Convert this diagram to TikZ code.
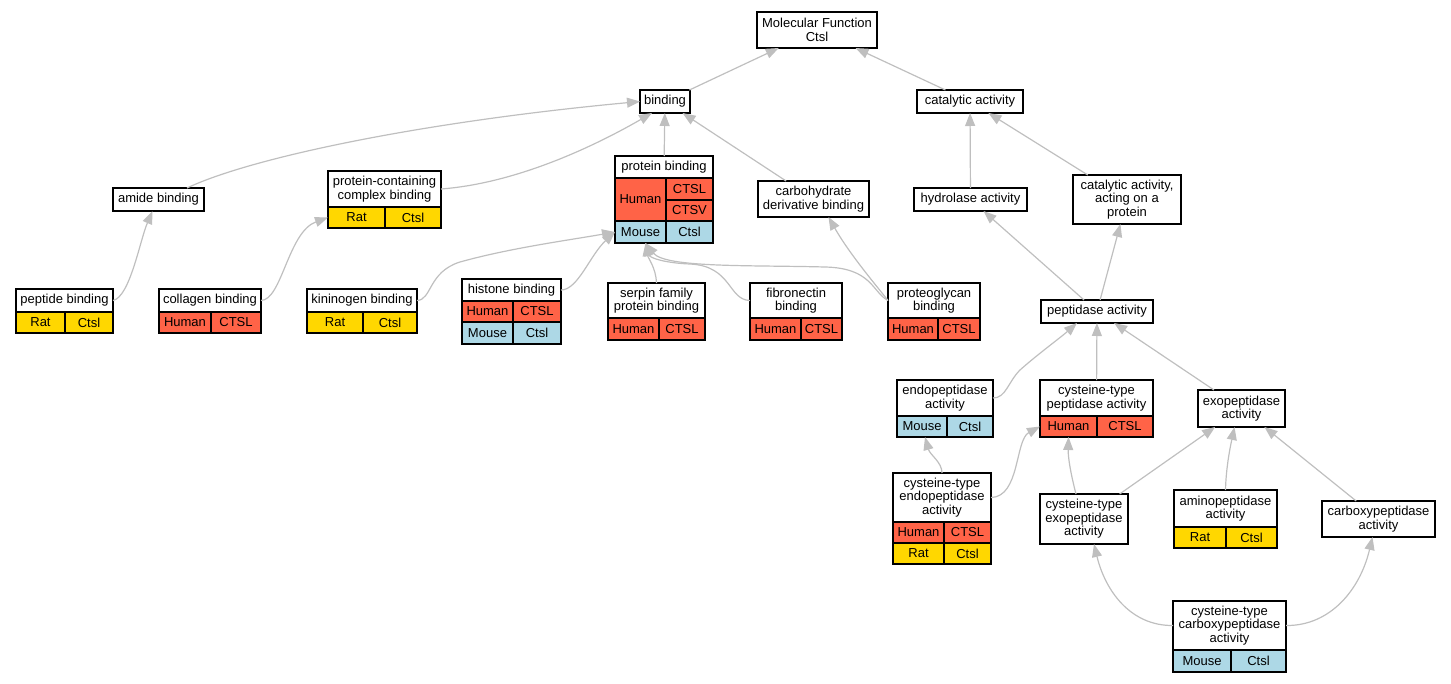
\documentclass[tikz,border=0pt]{standalone}
\usepackage{fontspec}
\setmainfont{Liberation Sans}
\usepackage{tikz}
\usetikzlibrary{arrows.meta}
\definecolor{human red}{rgb}{1, 0.388, 0.278}
\definecolor{rat gold}{rgb}{1, 0.843, 0}
\definecolor{mouse blue}{rgb}{0.678, 0.847, 0.902}
\definecolor{edge gray}{rgb}{0.75, 0.75, 0.75}

\begin{document}
\begin{tikzpicture}[x = 1pt, y = -1pt,
		term/.style = {draw = black, line width = 1.1pt, fill = white, text = black,
			align = center, inner sep = 0pt, outer sep = 0pt, anchor = north west,
			font = {\fontsize{13}{13.5}\selectfont}},
		human/.style = {term, fill = human red},
		rat/.style = {term, fill = rat gold},
		mouse/.style = {term, fill = mouse blue},
		isa/.style = {draw = edge gray, line width = 1.2pt,
			-{Triangle[length = 13pt, width = 10pt]}}]
		\useasboundingbox (0, 0) rectangle (1451, 683);
		% top
		\node[term, minimum width = 120, minimum height = 36] (mf) at (757, 12) {Molecular Function\\Ctsl};
		\node[term, minimum width = 50, minimum height = 23] (bind) at (640, 90) {binding};
		\node[term, minimum width = 106, minimum height = 23] (cat) at (917, 90) {catalytic activity};
		% binding side
		\node[term, minimum width = 91, minimum height = 23] (amide) at (113, 188) {amide binding};
		\node[term, minimum width = 113, minimum height = 36] (pccb) at (328, 171) {protein-containing\\complex binding};
		\node[rat, minimum width = 57, minimum height = 21] (pccb-sp) at (pccb.south west) {Rat};
		\node[rat, minimum width = 56, minimum height = 21] (pccb-gn) at (pccb-sp.north east) {Ctsl};
		\node[term, minimum width = 98, minimum height = 22] (pb) at (615, 156) {protein binding};
		\node[human, minimum width = 51, minimum height = 43] (pb-sp1) at (pb.south west) {Human};
		\node[human, minimum width = 47, minimum height = 22] (pb-gn1) at (pb-sp1.north east) {CTSL};
		\node[human, minimum width = 47, minimum height = 21] (pb-gn2) at (pb-gn1.south west) {CTSV};
		\node[mouse, minimum width = 51, minimum height = 22] (pb-sp2) at (pb-sp1.south west) {Mouse};
		\node[mouse, minimum width = 47, minimum height = 22] (pb-gn3) at (pb-sp2.north east) {Ctsl};
		\node[term, minimum width = 111, minimum height = 36] (carb) at (758, 181) {carbohydrate\\derivative binding};
		% binding leaves
		\node[term, minimum width = 97, minimum height = 23] (pepb) at (16, 289) {peptide binding};
		\node[rat, minimum width = 49, minimum height = 21] (pepb-sp) at (pepb.south west) {Rat};
		\node[rat, minimum width = 48, minimum height = 21] (pepb-gn) at (pepb-sp.north east) {Ctsl};
		\node[term, minimum width = 102, minimum height = 23] (coll) at (159, 289) {collagen binding};
		\node[human, minimum width = 52, minimum height = 21] (coll-sp) at (coll.south west) {Human};
		\node[human, minimum width = 50, minimum height = 21] (coll-gn) at (coll-sp.north east) {CTSL};
		\node[term, minimum width = 110, minimum height = 23] (kin) at (307, 289) {kininogen binding};
		\node[rat, minimum width = 56, minimum height = 21] (kin-sp) at (kin.south west) {Rat};
		\node[rat, minimum width = 54, minimum height = 21] (kin-gn) at (kin-sp.north east) {Ctsl};
		\node[term, minimum width = 99, minimum height = 22] (hist) at (462, 279) {histone binding};
		\node[human, minimum width = 51, minimum height = 21] (hist-sp1) at (hist.south west) {Human};
		\node[human, minimum width = 48, minimum height = 21] (hist-gn1) at (hist-sp1.north east) {CTSL};
		\node[mouse, minimum width = 51, minimum height = 22] (hist-sp2) at (hist-sp1.south west) {Mouse};
		\node[mouse, minimum width = 48, minimum height = 22] (hist-gn2) at (hist-sp2.north east) {Ctsl};
		\node[term, minimum width = 97, minimum height = 35] (serp) at (608, 283) {serpin family\\protein binding};
		\node[human, minimum width = 51, minimum height = 22] (serp-sp) at (serp.south west) {Human};
		\node[human, minimum width = 46, minimum height = 22] (serp-gn) at (serp-sp.north east) {CTSL};
		\node[term, minimum width = 92, minimum height = 35] (fib) at (750, 283) {fibronectin\\binding};
		\node[human, minimum width = 51, minimum height = 22] (fib-sp) at (fib.south west) {Human};
		\node[human, minimum width = 41, minimum height = 22] (fib-gn) at (fib-sp.north east) {CTSL};
		\node[term, minimum width = 92, minimum height = 35] (prot) at (888, 283) {proteoglycan\\binding};
		\node[human, minimum width = 50, minimum height = 22] (prot-sp) at (prot.south west) {Human};
		\node[human, minimum width = 42, minimum height = 22] (prot-gn) at (prot-sp.north east) {CTSL};
		% catalytic side
		\node[term, minimum width = 113, minimum height = 23] (hyd) at (914, 188) {hydrolase activity};
		\node[term, minimum width = 108, minimum height = 49] (catp) at (1073, 175) {catalytic activity,\\acting on a\\protein};
		\node[term, minimum width = 112, minimum height = 23] (pep) at (1041, 300) {peptidase activity};
		\node[term, minimum width = 96, minimum height = 36] (endo) at (897, 380) {endopeptidase\\activity};
		\node[mouse, minimum width = 50, minimum height = 21] (endo-sp) at (endo.south west) {Mouse};
		\node[mouse, minimum width = 46, minimum height = 21] (endo-gn) at (endo-sp.north east) {Ctsl};
		\node[term, minimum width = 113, minimum height = 36] (cpep) at (1040, 380) {cysteine-type\\peptidase activity};
		\node[human, minimum width = 57, minimum height = 21] (cpep-sp) at (cpep.south west) {Human};
		\node[human, minimum width = 56, minimum height = 21] (cpep-gn) at (cpep-sp.north east) {CTSL};
		\node[term, minimum width = 87, minimum height = 37] (exo) at (1198, 390) {exopeptidase\\activity};
		\node[term, minimum width = 98, minimum height = 49] (cendo) at (893, 473) {cysteine-type\\endopeptidase\\activity};
		\node[human, minimum width = 51, minimum height = 21] (cendo-sp1) at (cendo.south west) {Human};
		\node[human, minimum width = 47, minimum height = 21] (cendo-gn1) at (cendo-sp1.north east) {CTSL};
		\node[rat, minimum width = 51, minimum height = 21] (cendo-sp2) at (cendo-sp1.south west) {Rat};
		\node[rat, minimum width = 47, minimum height = 21] (cendo-gn2) at (cendo-sp2.north east) {Ctsl};
		\node[term, minimum width = 88, minimum height = 50] (cexo) at (1040, 494) {cysteine-type\\exopeptidase\\activity};
		\node[term, minimum width = 103, minimum height = 37] (amino) at (1174, 490) {aminopeptidase\\activity};
		\node[rat, minimum width = 52, minimum height = 21] (amino-sp) at (amino.south west) {Rat};
		\node[rat, minimum width = 51, minimum height = 21] (amino-gn) at (amino-sp.north east) {Ctsl};
		\node[term, minimum width = 113, minimum height = 36] (carbx) at (1322, 501) {carboxypeptidase\\activity};
		\node[term, minimum width = 113, minimum height = 49] (ccarb) at (1173, 601) {cysteine-type\\carboxypeptidase\\activity};
		\node[mouse, minimum width = 58, minimum height = 22] (ccarb-sp) at (ccarb.south west) {Mouse};
		\node[mouse, minimum width = 55, minimum height = 22] (ccarb-gn) at (ccarb-sp.north east) {Ctsl};
		% edges, binding side
		\draw[isa] (bind) -- (mf);
		\draw[isa] (cat) -- (mf);
		\draw[isa] ([xshift = -17]amide.north east) .. controls (250, 158) and (420, 122) .. (bind.west);
		\draw[isa] (pccb.east) .. controls (520, 183) and (600, 143) .. ([xshift = 12]bind.south west);
		\draw[isa] (pb) -- (bind);
		\draw[isa] (carb) -- (bind);
		\draw[isa] (pepb.east) .. controls (130, 297) and (140, 240) .. ([xshift = -6]amide.south);
		\draw[isa] (coll.east) .. controls (282, 300) and (288, 232) .. (pccb-sp.west);
		\draw[isa] (kin.east) .. controls (432, 300) and (428, 272) .. (460, 262)
			.. controls (510, 248) and (570, 240) .. (pb-sp2.west);
		\draw[isa] (hist.east) .. controls (578, 290) and (590, 255) .. (pb-sp2.west);
		\draw[isa] (serp.north) .. controls (656, 268) and (648, 258) .. ([xshift = 5]pb-sp2.south);
		\draw[isa] (fib.west) .. controls (728, 300) and (732, 266) .. (690, 264)
			.. controls (665, 263) and (650, 258) .. ([xshift = 5]pb-sp2.south);
		\draw[isa] (prot.west) .. controls (872, 292) and (872, 268) .. (825, 267)
			.. controls (750, 265) and (665, 268) .. ([xshift = 5]pb-sp2.south);
		\draw[isa] (prot.west) .. controls (880, 290) and (850, 255) .. ([xshift = 15]carb.south);
		% edges, catalytic side
		\draw[isa] (hyd) -- (cat);
		\draw[isa] (catp) -- (cat);
		\draw[isa] (pep) -- (hyd);
		\draw[isa] (pep) -- (catp);
		\draw[isa] (endo.east) .. controls (1006, 398) and (1008, 382) .. (1020, 370)
			.. controls (1038, 354) and (1060, 338) .. ([xshift = -20]pep.south);
		\draw[isa] (cpep) -- (pep);
		\draw[isa] (exo) -- (pep);
		\draw[isa] (cendo.north) .. controls (942, 462) and (930, 455) .. ([xshift = 3]endo-sp.south);
		\draw[isa] (cendo.east) .. controls (1020, 497) and (1015, 440) .. (cpep-sp.west);
		\draw[isa] ([xshift = -8]cexo.north) .. controls (1071, 475) and (1068, 458) .. (cpep-sp.south);
		\draw[isa] (cexo) -- (exo);
		\draw[isa] (amino.north) .. controls (1226, 468) and (1230, 448) .. ([xshift = -7]exo.south);
		\draw[isa] (carbx) -- (exo);
		\draw[isa] (ccarb.west) .. controls (1130, 626) and (1105, 590) .. ([xshift = 10]cexo.south);
		\draw[isa] (ccarb.east) .. controls (1330, 626) and (1360, 590) .. ([xshift = -6]carbx.south);
\end{tikzpicture}
\end{document}
